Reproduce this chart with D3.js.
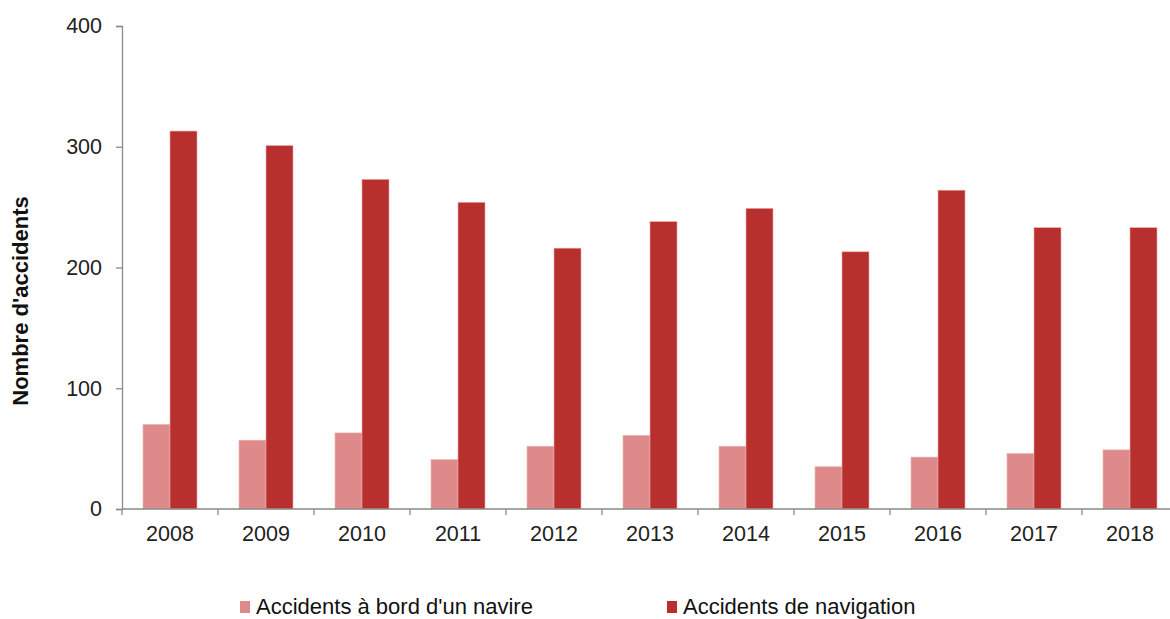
<!DOCTYPE html>
<html>
<head>
<meta charset="utf-8">
<script src="https://cdn.jsdelivr.net/npm/d3@7"></script>
<style>
  body { margin: 0; background: #fff; }
  svg { display: block; font-family: "Liberation Sans", Arial, sans-serif; }
</style>
</head>
<body>
<svg width="1170" height="619"></svg>
<script>
var years = ["2008", "2009", "2010", "2011", "2012", "2013", "2014", "2015", "2016", "2017", "2018"];
var aBord = [70, 57, 63, 41, 52, 61, 52, 35, 43, 46, 49];
var navigation = [313, 301, 273, 254, 216, 238, 249, 213, 264, 233, 233];
var seriesNames = ["Accidents à bord d'un navire", "Accidents de navigation"];
var yTicks = [0, 100, 200, 300, 400];

function drawBarChart () {
    var svg = d3.select("svg"),
        margin = {top: 26, left: 122},
        width = 1056,
        height = 483,
        g = svg.append("g").attr("transform", "translate(" + margin.left + "," + margin.top + ")");

    var colors = ["#de8a8a", "#b8302e"];
    var series = [aBord, navigation];

    var x = d3.scaleBand().domain(years).range([0, width]).padding(0);
    var x1 = d3.scaleBand().domain([0, 1]).range([0, x.bandwidth()])
        .paddingInner(0).paddingOuter(0.778);
    var y = d3.scaleLinear().domain([0, 400]).range([height, 0]);

    // bars
    var groups = g.selectAll(".year")
        .data(years)
        .enter().append("g")
            .attr("class", "year")
            .attr("transform", function(d) { return "translate(" + x(d) + ",0)"; });

    groups.selectAll("rect")
        .data(function(d, i) { return series.map(function(s, k) { return {k: k, v: s[i]}; }); })
        .enter().append("rect")
            .attr("x", function(d) { return x1(d.k); })
            .attr("y", function(d) { return y(d.v); })
            .attr("width", x1.bandwidth())
            .attr("height", function(d) { return height - y(d.v); })
            .attr("fill", function(d) { return colors[d.k]; })
            .attr("stroke", function(d) { return d.k ? "#e9a7a6" : "#eab7b7"; })
            .attr("stroke-width", 0.6);

    // y axis
    var yAxis = g.append("g")
        .call(d3.axisLeft(y).tickValues(yTicks).tickSize(6).tickPadding(14));
    yAxis.select(".domain").attr("stroke", "#8a8a8a").attr("stroke-width", 1.3);
    yAxis.selectAll(".tick line").attr("stroke", "#8a8a8a").attr("stroke-width", 1.3);
    yAxis.selectAll(".tick text")
        .attr("fill", "#222")
        .style("font-size", "21.5px")
        .style("font-family", "Liberation Sans, Arial, sans-serif");

    // x axis: labels centered, ticks at category boundaries
    var xAxis = g.append("g")
        .attr("transform", "translate(0," + height + ")")
        .call(d3.axisBottom(x).tickSize(0).tickPadding(17));
    xAxis.select(".domain").remove();
    xAxis.selectAll(".tick text")
        .attr("fill", "#222")
        .style("font-size", "21.5px")
        .style("font-family", "Liberation Sans, Arial, sans-serif");

    var bounds = years.map(function(d) { return x(d); }).concat([x.range()[1]]);
    xAxis.append("line")
        .attr("x1", 0).attr("x2", width)
        .attr("stroke", "#8a8a8a").attr("stroke-width", 1.3);
    xAxis.selectAll(".bound")
        .data(bounds)
        .enter().append("line")
            .attr("class", "bound")
            .attr("x1", function(d) { return d; })
            .attr("x2", function(d) { return d; })
            .attr("y1", 0).attr("y2", 6)
            .attr("stroke", "#8a8a8a").attr("stroke-width", 1.3);

    // y label
    svg.append("text")
        .attr("transform", "translate(28," + 301 + ") rotate(-90)")
        .attr("text-anchor", "middle")
        .style("font-size", "22px")
        .style("font-weight", "bold")
        .attr("fill", "#111")
        .text("Nombre d'accidents");

    // legend
    var legendX = [240, 667];
    var legend = svg.selectAll(".legend")
        .data(seriesNames)
        .enter().append("g")
            .attr("class", "legend")
            .attr("transform", function(d, i) { return "translate(" + legendX[i] + ",606)"; });

    legend.append("rect")
        .attr("x", 0).attr("y", -5)
        .attr("width", 10).attr("height", 12)
        .attr("fill", function(d, i) { return colors[i]; });

    legend.append("text")
        .attr("x", 16)
        .attr("dy", "0.35em")
        .attr("fill", "#111")
        .style("font-size", "22px")
        .text(function(d) { return d; });
}

drawBarChart();
</script>
</body>
</html>
